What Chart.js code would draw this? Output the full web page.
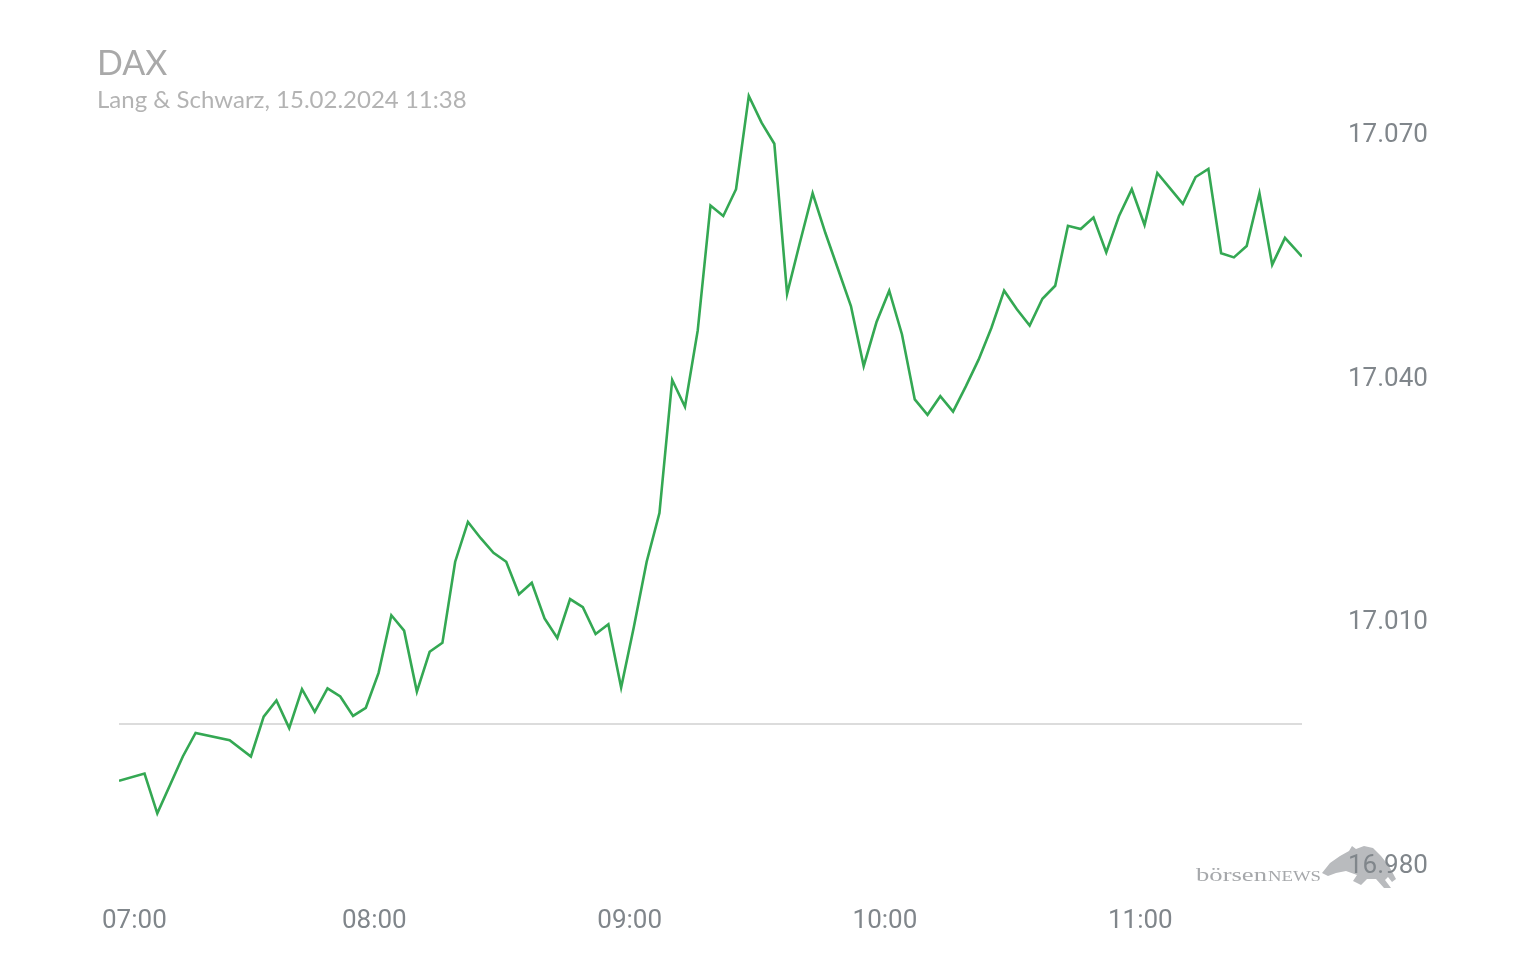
<!DOCTYPE html>
<html>
<head>
<meta charset="utf-8">
<title>DAX</title>
<script src="https://cdn.jsdelivr.net/npm/chart.js@4.4.1/dist/chart.umd.min.js"></script>
<style>
  html, body { margin: 0; padding: 0; background: #fff; }
  #wrap { width: 1536px; height: 960px; }
</style>
</head>
<body>
<div id="wrap"><canvas id="myChart" width="1536" height="960"></canvas></div>
<script>
var title = 'DAX';
var subtitle = 'Lang & Schwarz, 15.02.2024 11:38';

// intraday quotes (Lang & Schwarz)
var times = [
	'07:00', '07:06', '07:09', '07:15', '07:18', '07:26', '07:31', '07:34', '07:37', '07:40',
	'07:43', '07:46', '07:49', '07:52', '07:55', '07:58', '08:01', '08:04', '08:07', '08:10',
	'08:13', '08:16', '08:19', '08:22', '08:25', '08:28', '08:31', '08:34', '08:37', '08:40',
	'08:43', '08:46', '08:49', '08:52', '08:55', '08:58', '09:01', '09:04', '09:07', '09:10',
	'09:13', '09:16', '09:19', '09:22', '09:25', '09:28', '09:31', '09:34', '09:37', '09:40',
	'09:43', '09:46', '09:49', '09:52', '09:55', '09:58', '10:01', '10:04', '10:07', '10:10',
	'10:13', '10:16', '10:19', '10:22', '10:25', '10:28', '10:31', '10:34', '10:37', '10:40',
	'10:43', '10:46', '10:49', '10:52', '10:55', '10:58', '11:01', '11:04', '11:07', '11:10',
	'11:13', '11:16', '11:19', '11:22', '11:25', '11:28', '11:31', '11:34', '11:38'
];
var prices = [
	16990.0, 16990.9, 16986.0, 16993.0, 16995.9, 16995.0, 16993.0, 16997.9, 16999.9, 16996.5,
	17001.3, 16998.5, 17001.4, 17000.4, 16998.0, 16999.0, 17003.3, 17010.4, 17008.5, 17001.0,
	17005.9, 17007.0, 17017.0, 17021.9, 17019.9, 17018.1, 17017.0, 17013.0, 17014.4, 17010.0,
	17007.6, 17012.4, 17011.4, 17008.1, 17009.3, 17001.5, 17009.0, 17017.0, 17023.0, 17039.4,
	17036.1, 17045.5, 17060.9, 17059.6, 17062.9, 17074.4, 17071.1, 17068.5, 17050.0, 17056.3,
	17062.4, 17057.5, 17053.0, 17048.5, 17041.1, 17046.5, 17050.4, 17045.0, 17037.0, 17035.1,
	17037.4, 17035.5, 17038.6, 17041.9, 17045.8, 17050.4, 17048.1, 17046.1, 17049.4, 17051.0,
	17058.4, 17058.0, 17059.4, 17055.1, 17059.6, 17062.9, 17058.5, 17064.9, 17063.0, 17061.1,
	17064.4, 17065.4, 17055.0, 17054.5, 17055.9, 17062.4, 17053.6, 17056.9, 17054.6
];
var prevClose = 16997;
var yTicks = [16980, 17010, 17040, 17070];
var xTicks = ['07:00', '08:00', '09:00', '10:00', '11:00'];
var yMin = 16980;
var yMax = 17075;

function toMinutes(t) {
	var p = t.split(':');
	return (+p[0] - 7) * 60 + (+p[1]);
}
function fmtDe(v) {
	var th = Math.floor(v / 1000);
	var rest = String(Math.round(v % 1000)).padStart(3, '0');
	return th + '.' + rest;
}

var tickColor = '#80868b';
var xFirst = toMinutes(times[0]);
var xLast = toMinutes(times[times.length - 1]);

var decor = {
	id: 'decor',
	beforeDraw: function(chart) {
		var ctx = chart.ctx;
		// boersenNEWS watermark
		ctx.save();
		ctx.fillStyle = '#b9bbbe';
		ctx.beginPath();
		ctx.moveTo(1322, 873);
		ctx.lineTo(1330, 863);
		ctx.lineTo(1340, 856);
		ctx.lineTo(1349, 851);
		ctx.lineTo(1352, 846);
		ctx.lineTo(1356, 849);
		ctx.lineTo(1364, 846);
		ctx.lineTo(1373, 848);
		ctx.lineTo(1381, 856);
		ctx.lineTo(1389, 866);
		ctx.lineTo(1396, 879);
		ctx.lineTo(1392, 882);
		ctx.lineTo(1388, 877);
		ctx.lineTo(1385, 880);
		ctx.lineTo(1391, 888);
		ctx.lineTo(1384, 888);
		ctx.lineTo(1376, 879);
		ctx.lineTo(1367, 879);
		ctx.lineTo(1361, 885);
		ctx.lineTo(1353, 881);
		ctx.lineTo(1357, 875);
		ctx.lineTo(1346, 871);
		ctx.lineTo(1336, 873);
		ctx.lineTo(1328, 876);
		ctx.closePath();
		ctx.fill();

		ctx.fillStyle = '#a6a8ab';
		ctx.textBaseline = 'alphabetic';
		ctx.font = '19px "Liberation Serif"';
		var w1 = ctx.measureText('börsen').width;
		ctx.save();
		ctx.translate(1196, 881);
		ctx.scale(71 / w1, 1);
		ctx.fillText('börsen', 0, 0);
		ctx.restore();
		ctx.font = '14px "Liberation Serif"';
		var w2 = ctx.measureText('NEWS').width;
		ctx.save();
		ctx.translate(1268, 881);
		ctx.scale(53 / w2, 1);
		ctx.fillText('NEWS', 0, 0);
		ctx.restore();
		ctx.restore();
	},
	afterDraw: function(chart) {
		var ctx = chart.ctx;
		var area = chart.chartArea;
		ctx.save();
		ctx.textBaseline = 'alphabetic';
		ctx.textAlign = 'left';
		ctx.fillStyle = '#a9a9a9';
		ctx.font = '34px Lato';
		ctx.fillText(title, 97, 75);
		ctx.fillStyle = '#b3b3b3';
		ctx.font = '24px Lato';
		ctx.fillText(subtitle, 97, 108);

		// time labels, first one kept inside the canvas edge
		var xs = chart.scales.x;
		ctx.font = '26px Roboto';
		ctx.fillStyle = tickColor;
		ctx.textAlign = 'center';
		xTicks.forEach(function(t) {
			var px = xs.getPixelForValue(toMinutes(t));
			var w = ctx.measureText(t).width;
			var cx = Math.max(px, area.left - 17 + w / 2);
			ctx.fillText(t, cx, 928);
		});
		ctx.restore();
	}
};

var ctx = document.getElementById('myChart').getContext('2d');
var chart = new Chart(ctx, {
	type: 'line',
	data: {
		datasets: [{
			label: title,
			data: times.map(function(t, i) { return { x: toMinutes(t), y: prices[i] }; }),
			borderColor: '#34a853',
			borderWidth: 2.6,
			pointRadius: 0,
			tension: 0,
			fill: false
		}, {
			label: 'Vortag',
			data: [{ x: xFirst, y: prevClose }, { x: xLast, y: prevClose }],
			borderColor: '#dcdcdc',
			borderWidth: 2,
			pointRadius: 0,
			fill: false
		}]
	},
	options: {
		responsive: false,
		animation: false,
		layout: {
			padding: { left: 119, top: 91, right: 0, bottom: 0 }
		},
		plugins: {
			legend: { display: false },
			tooltip: { enabled: false },
			title: { display: false }
		},
		scales: {
			x: {
				type: 'linear',
				min: xFirst,
				max: xLast,
				grid: { display: false, drawTicks: false },
				border: { display: false },
				ticks: { display: false },
				afterBuildTicks: function(s) {
					s.ticks = xTicks.map(function(t) { return { value: toMinutes(t) }; });
				},
				afterFit: function(s) { s.height = 98; }
			},
			y: {
				position: 'right',
				min: yMin,
				max: yMax,
				grid: { display: false, drawTicks: false },
				border: { display: false },
				afterBuildTicks: function(s) {
					s.ticks = yTicks.map(function(v) { return { value: v }; });
				},
				ticks: {
					color: tickColor,
					padding: 46,
					labelOffset: 4,
					font: { family: 'Roboto', size: 26 },
					callback: function(v) { return fmtDe(v); }
				},
				afterFit: function(s) { s.width = 234; }
			}
		}
	},
	plugins: [decor]
});
</script>
</body>
</html>
